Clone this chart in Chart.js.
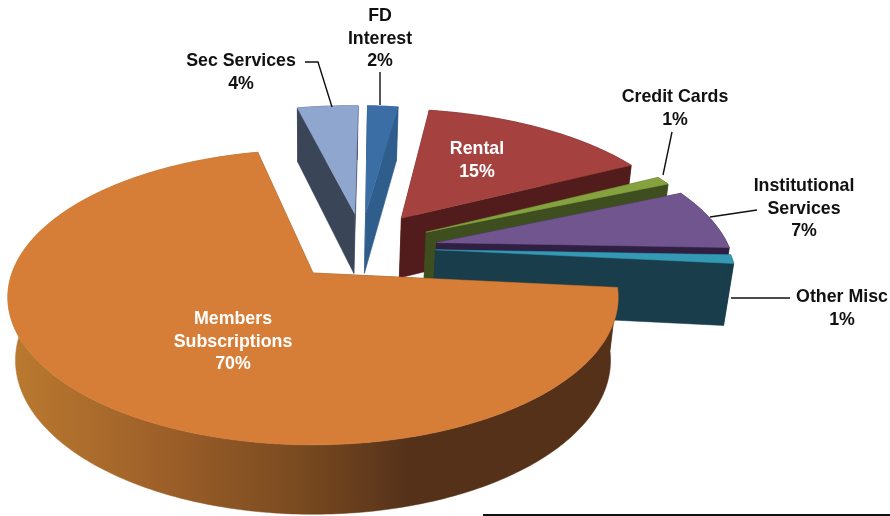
<!DOCTYPE html>
<html>
<head>
<meta charset="utf-8">
<style>html,body{margin:0;padding:0;background:#fff}canvas{display:block}</style>
<script src="https://cdn.jsdelivr.net/npm/chart.js@4"></script>
</head>
<body>
<canvas id="c" width="890" height="516"></canvas>
<script>
// ---- data ----
const categories = ['Members Subscriptions','Sec Services','FD Interest','Rental','Credit Cards','Institutional Services','Other Misc'];
const values = [70,4,2,15,1,7,1];

// ---- style ----
const topColors  = ['#d67e37','#8fa7cf','#3a6ea5','#a5423f','#85a23f','#70558f','#3399b5'];
const wallColors = ['#55311a','#3a4558','#2f5d8c','#521c1c','#3e4e1e','#2f1f42','#193d4a'];
const explodePct = [18,31,31.7,33.5,32,31.7,30];
const explodeTurn = [0,10.5,6.7,-1,-6,-5,-10];
const labelLines = [['Members','Subscriptions'],['Sec Services'],['FD','Interest'],['Rental'],['Credit Cards'],['Institutional','Services'],['Other Misc']];
const labelX = [233,241,380,477,675,804,842];
const labelY = [319,61,16,149,97,186,297];
const labelFill = ['#fff','#111','#111','#fff','#111','#111','#111'];
const leaders = [[[305,62],[318,62],[332,107]],[[380,72],[380,105]],[[672,132],[663,175]],[[757,210],[710,217]],[[790,298],[731,298]]];
const view = {cx:313,cy:273,a:301,b:143.5,k:0.165,m:0.025,d:64};

function project(u,v,h){
  const w = 1 - view.k*v + view.m*h;
  return [view.cx + view.a*u/w, view.cy + (view.b*v + view.d*h)/w];
}
function poly(ctx,pts,fill){
  ctx.beginPath();
  pts.forEach((p,i)=> i? ctx.lineTo(p[0],p[1]) : ctx.moveTo(p[0],p[1]));
  ctx.closePath();
  ctx.fillStyle = fill; ctx.fill();
  ctx.strokeStyle = fill; ctx.lineWidth = 0.5; ctx.stroke();
}
const pie3d = {
  id:'pie3d',
  beforeDatasetDraw(chart,args){
    const ctx = chart.ctx;
    const arcs = chart.getDatasetMeta(args.index).data;
    const m0 = arcs[0], mid0 = (m0.startAngle+m0.endAngle)/2, e0 = m0.options.offset/100;
    const O = [-Math.cos(mid0)*e0, -Math.sin(mid0)*e0];
    const order = [1,2,3,4,5,6,0];
    order.forEach(i=>{
      const el = arcs[i];
      const mid = (el.startAngle+el.endAngle)/2 + explodeTurn[i]*Math.PI/180, e = el.options.offset/100;
      const ax = O[0]+Math.cos(mid)*e, ay = O[1]+Math.sin(mid)*e;
      const n = Math.max(4,Math.ceil((el.endAngle-el.startAngle)*60));
      const rimPts = [];
      for(let j=0;j<=n;j++){
        const t = el.startAngle+(el.endAngle-el.startAngle)*j/n;
        rimPts.push([ax+Math.cos(t), ay+Math.sin(t)]);
      }
      const top = rimPts.map(p=>project(p[0],p[1],0));
      const bot = rimPts.map(p=>project(p[0],p[1],1));
      let wallFill = wallColors[i];
      if(i===0){
        const g = ctx.createLinearGradient(8,0,618,0);
        g.addColorStop(0,'#bb7a30'); g.addColorStop(0.25,'#9e6029');
        g.addColorStop(0.48,'#794a20'); g.addColorStop(0.66,'#55311a'); g.addColorStop(1,'#55311a');
        wallFill = g;
      }
      const aT = project(ax,ay,0), aB = project(ax,ay,1);
      poly(ctx,[aT,top[0],bot[0],aB],wallFill);
      poly(ctx,[aT,top[n],bot[n],aB],wallFill);
      poly(ctx,top.concat(bot.slice().reverse()),wallFill);
      poly(ctx,[aT].concat(top),topColors[i]);
    });
    return false;
  },
  afterDraw(chart){
    const ctx = chart.ctx;
    ctx.strokeStyle = '#111'; ctx.lineWidth = 1.4;
    leaders.forEach(l=>{
      ctx.beginPath();
      l.forEach((p,i)=> i? ctx.lineTo(p[0],p[1]) : ctx.moveTo(p[0],p[1]));
      ctx.stroke();
    });
    ctx.font = 'bold 17.8px "Liberation Sans", Arial, sans-serif';
    ctx.textAlign = 'center'; ctx.textBaseline = 'middle';
    categories.forEach((c,i)=>{
      const lines = labelLines[i].concat([values[i]+'%']);
      ctx.fillStyle = labelFill[i];
      lines.forEach((t,j)=> ctx.fillText(t,labelX[i],labelY[i]+j*22.7));
    });
    ctx.fillStyle = '#111';
    ctx.fillRect(483,514,407,2);
  }
};
new Chart(document.getElementById('c'),{
  type:'pie',
  data:{labels:categories,datasets:[{data:values,backgroundColor:topColors,borderWidth:0,offset:explodePct}]},
  options:{
    responsive:false,animation:false,rotation:95.7,
    layout:{padding:0},
    plugins:{legend:{display:false},tooltip:{enabled:false}}
  },
  plugins:[pie3d]
});
</script>
</body>
</html>
